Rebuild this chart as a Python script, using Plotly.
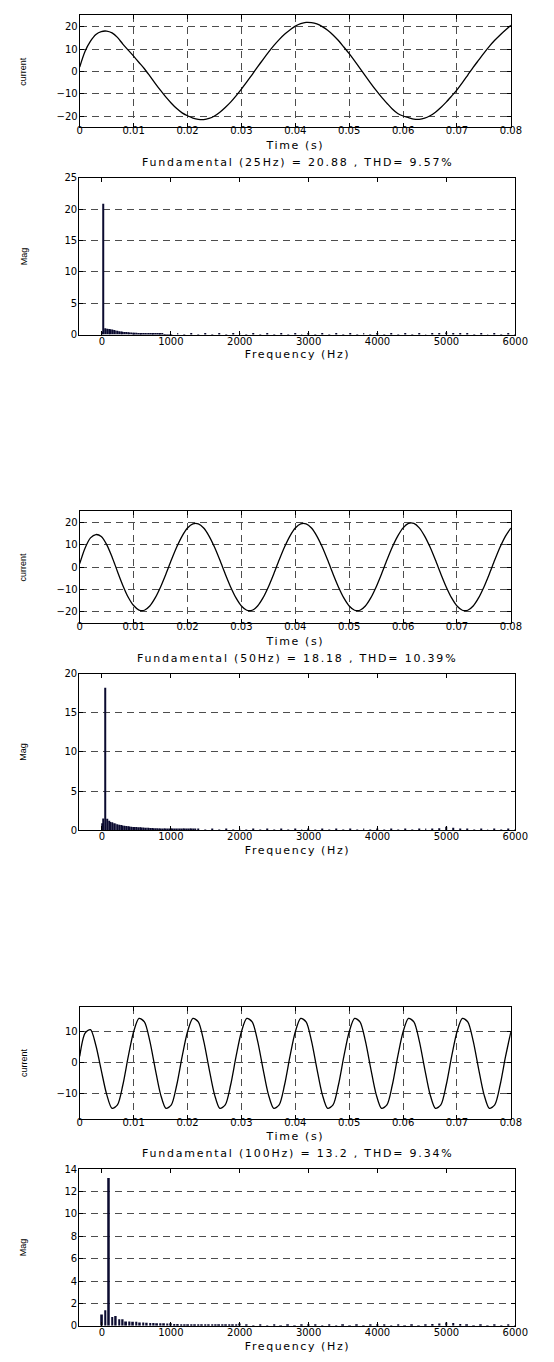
import plotly.graph_objects as go

W, H = 554, 1362
FONT = "DejaVu Sans, Verdana, sans-serif"
FONT_Y = "Liberation Sans, Arial, sans-serif"

# ---------------- data ----------------
time_s = [round(0.001 * i, 3) for i in range(81)]

current_25hz = [2.0, 9.0, 13.5, 16.5, 17.8, 18.0, 17.2, 15.2, 12.2, 9.5,
                6.8, 4.0, 1.2, -2.0, -5.3, -8.5, -11.5, -14.2, -16.6, -18.5,
                -19.8, -20.8, -21.4, -21.5, -21.0, -19.9, -18.2, -16.1, -13.7, -10.9,
                -7.9, -4.7, -1.4, 2.0, 5.3, 8.5, 11.5, 14.2, 16.6, 18.5,
                20.2, 21.3, 21.9, 21.8, 21.2, 20.0, 18.4, 16.3, 13.8, 10.9,
                7.9, 4.7, 1.4, -2.0, -5.3, -8.5, -11.5, -14.2, -16.8, -18.8,
                -19.9, -20.6, -21.3, -21.4, -20.9, -19.8, -18.2, -16.1, -13.7, -11.0,
                -8.2, -5.0, -1.6, 1.8, 5.0, 8.2, 11.2, 13.9, 16.3, 18.5,
                20.6]

current_50hz = [1.5, 8.5, 13.0, 14.5, 13.6, 10.0, 4.5, -2.0, -8.2, -13.5,
                -17.2, -19.2, -19.3, -17.4, -13.8, -8.9, -3.1, 3.1, 8.9, 13.8,
                17.4, 19.3, 19.3, 17.4, 13.8, 8.9, 3.1, -3.1, -8.9, -13.8,
                -17.4, -19.3, -19.3, -17.4, -13.8, -8.9, -3.1, 3.1, 8.9, 13.8,
                17.4, 19.3, 19.3, 17.4, 13.8, 8.9, 3.1, -3.1, -8.9, -13.8,
                -17.4, -19.3, -19.3, -17.4, -13.8, -8.9, -3.1, 3.1, 8.9, 13.8,
                17.5, 19.5, 19.5, 17.5, 13.8, 8.9, 3.1, -3.1, -8.9, -13.8,
                -17.4, -19.3, -19.3, -17.4, -13.8, -8.9, -3.1, 3.1, 8.9, 13.8,
                17.4]

current_100hz = [2.0, 9.5, 10.6, 5.5, -2.5, -10.2, -14.7, -13.6, -7.2, 1.9,
                 9.9, 14.2, 13.1, 7.0, -1.9, -10.2, -14.7, -13.6, -7.2, 1.9,
                 9.9, 14.2, 13.1, 7.0, -1.9, -10.2, -14.7, -13.6, -7.2, 1.9,
                 9.9, 14.2, 13.1, 7.0, -1.9, -10.2, -14.7, -13.6, -7.2, 1.9,
                 9.9, 14.2, 13.1, 7.0, -1.9, -10.2, -14.7, -13.6, -7.2, 1.9,
                 9.9, 14.2, 13.1, 7.0, -1.9, -10.2, -14.7, -13.6, -7.2, 1.9,
                 9.9, 14.2, 13.1, 7.0, -1.9, -10.2, -14.7, -13.6, -7.2, 1.9,
                 9.9, 14.2, 13.1, 7.0, -1.9, -10.2, -14.7, -13.6, -7.2, 1.9,
                 9.9]

# spectrum 1 (25 Hz fundamental)
spec1_freq_low = list(range(0, 1001, 25))
spec1_mag_low = [0.45, 20.88, 1.0, 0.95, 0.9, 0.85, 0.8, 0.72, 0.66, 0.6,
                 0.55, 0.5, 0.46, 0.42, 0.4, 0.38, 0.35, 0.33, 0.31, 0.3,
                 0.28, 0.27, 0.26, 0.25, 0.24, 0.23, 0.22, 0.2, 0.19, 0.17,
                 0.15, 0.13, 0.12, 0.11, 0.1, 0.1, 0.09, 0.09, 0.08, 0.08,
                 0.08]
spec1_freq_high = list(range(1100, 6001, 100))
spec1_mag_high = [0.1, 0.06, 0.1, 0.06, 0.1, 0.06, 0.1, 0.06, 0.1, 0.12,
                  0.06, 0.1, 0.06, 0.1, 0.06, 0.1, 0.06, 0.1, 0.06, 0.12,
                  0.06, 0.1, 0.06, 0.1, 0.06, 0.1, 0.06, 0.1, 0.06, 0.12,
                  0.06, 0.1, 0.06, 0.1, 0.06, 0.1, 0.08, 0.12, 0.2, 0.32,
                  0.22, 0.12, 0.1, 0.06, 0.1, 0.06, 0.1, 0.06, 0.1, 0.06]

# spectrum 2 (50 Hz fundamental)
spec2_freq_low = list(range(0, 1351, 25))
spec2_mag_low = [0.9, 1.5, 18.18, 1.45, 1.2, 1.05, 1.0, 0.9, 0.85, 0.75,
                 0.7, 0.65, 0.6, 0.55, 0.52, 0.5, 0.48, 0.45, 0.42, 0.42,
                 0.4, 0.38, 0.36, 0.35, 0.33, 0.32, 0.3, 0.3, 0.28, 0.27,
                 0.26, 0.25, 0.24, 0.23, 0.22, 0.22, 0.21, 0.2, 0.2, 0.19,
                 0.19, 0.18, 0.18, 0.17, 0.17, 0.16, 0.16, 0.15, 0.15, 0.15,
                 0.14, 0.14, 0.14, 0.13, 0.12]
spec2_freq_high = list(range(1400, 6001, 100))
spec2_mag_high = [0.08, 0.05, 0.08, 0.05, 0.08, 0.05, 0.1, 0.05, 0.08, 0.05,
                  0.08, 0.05, 0.08, 0.05, 0.08, 0.05, 0.1, 0.05, 0.08, 0.05,
                  0.08, 0.05, 0.08, 0.05, 0.08, 0.05, 0.1, 0.05, 0.08, 0.05,
                  0.08, 0.05, 0.08, 0.1, 0.15, 0.25, 0.45, 0.3, 0.12, 0.08,
                  0.05, 0.08, 0.05, 0.08, 0.05, 0.08, 0.05]

# spectrum 3 (100 Hz fundamental)
spec3_freq_low = list(range(0, 2001, 50))
spec3_mag_low = [1.0, 1.38, 13.2, 0.78, 0.88, 0.58, 0.58, 0.38, 0.38, 0.35,
                 0.35, 0.3, 0.3, 0.27, 0.25, 0.25, 0.23, 0.22, 0.22, 0.2,
                 0.22, 0.15, 0.15, 0.14, 0.14, 0.13, 0.14, 0.13, 0.14, 0.13,
                 0.14, 0.13, 0.13, 0.13, 0.13, 0.12, 0.13, 0.12, 0.12, 0.12,
                 0.2]
spec3_freq_high = list(range(2100, 6001, 100))
spec3_mag_high = [0.07, 0.05, 0.07, 0.05, 0.07, 0.05, 0.07, 0.05, 0.07, 0.12,
                  0.07, 0.05, 0.07, 0.05, 0.07, 0.05, 0.07, 0.05, 0.07, 0.12,
                  0.07, 0.05, 0.07, 0.05, 0.07, 0.05, 0.12, 0.15, 0.2, 0.3,
                  0.25, 0.15, 0.07, 0.05, 0.07, 0.05, 0.07, 0.05, 0.07, 0.05]

titles = ["Fundamental (25Hz) = 20.88 , THD= 9.57%",
          "Fundamental (50Hz) = 18.18 , THD= 10.39%",
          "Fundamental (100Hz) = 13.2 , THD= 9.34%"]

time_ticks = [0, 0.01, 0.02, 0.03, 0.04, 0.05, 0.06, 0.07, 0.08]
time_ticklabels = ["0", "0.01", "0.02", "0.03", "0.04", "0.05", "0.06", "0.07", "0.08"]
freq_ticks = [0, 1000, 2000, 3000, 4000, 5000, 6000]
freq_ticklabels = ["0", "1000", "2000", "3000", "4000", "5000", "6000"]

time_series = [current_25hz, current_50hz, current_100hz]
time_yranges = [[-25, 25], [-25, 25], [-18, 18]]
time_yticks = [[-20, -10, 0, 10, 20], [-20, -10, 0, 10, 20], [-10, 0, 10]]
spectra = [(spec1_freq_low + spec1_freq_high, spec1_mag_low + spec1_mag_high, 14),
           (spec2_freq_low + spec2_freq_high, spec2_mag_low + spec2_mag_high, 14),
           (spec3_freq_low + spec3_freq_high, spec3_mag_low + spec3_mag_high, 26)]
spec_yranges = [[0, 25], [0, 20], [0, 14]]
spec_dtick = [5, 5, 2]

# ---------------- layout geometry (pixels) ----------------
TX0, TX1 = 79, 523
SX0, SX1 = 78.5, 527.5
blocks = [0, 500, 1000]


def px(x):
    return x / W


def py(y):
    return 1 - y / H


fig = go.Figure()
layout = dict(
    width=W, height=H, margin=dict(l=0, r=0, t=0, b=0),
    paper_bgcolor="white", plot_bgcolor="white", showlegend=False,
    font=dict(family=FONT, size=10, color="black"),
    barmode="overlay", annotations=[],
)

axis_common = dict(
    showline=True, linecolor="black", linewidth=1, mirror="ticks",
    ticks="inside", ticklen=4, tickcolor="black", zeroline=False,
    tickfont=dict(family=FONT, size=10, color="black"),
    gridcolor="#4d4d4d", gridwidth=1, griddash="7px,5px",
)

for i, b in enumerate(blocks):
    ta = 2 * i + 1
    sa = 2 * i + 2
    # time-domain panel
    fig.add_trace(go.Scatter(
        x=time_s, y=time_series[i], mode="lines",
        line=dict(color="black", width=1.3, shape="spline", smoothing=0.8),
        xaxis=f"x{ta}", yaxis=f"y{ta}", hoverinfo="skip"))
    layout[f"xaxis{ta}"] = dict(
        axis_common, domain=[px(TX0), px(TX1)], anchor=f"y{ta}",
        range=[0, 0.08], tickvals=time_ticks, ticktext=time_ticklabels,
        showgrid=True, ticklabelstandoff=-6)
    layout[f"yaxis{ta}"] = dict(
        axis_common, domain=[py(b + 122.5), py(b + 9.5)], anchor=f"x{ta}",
        range=time_yranges[i], tickvals=time_yticks[i], showgrid=True,
        ticklabelstandoff=-1)
    # spectrum panel
    f, m, w = spectra[i]
    fig.add_trace(go.Bar(
        x=f, y=m, width=w, marker=dict(color="#0b0b30", line=dict(width=0)),
        xaxis=f"x{sa}", yaxis=f"y{sa}", hoverinfo="skip"))
    layout[f"xaxis{sa}"] = dict(
        axis_common, domain=[px(SX0), px(SX1)], anchor=f"y{sa}",
        range=[-330, 6000], tickvals=freq_ticks, ticktext=freq_ticklabels,
        showgrid=False, ticklabelstandoff=-3)
    layout[f"yaxis{sa}"] = dict(
        axis_common, domain=[py(b + 331.5), py(b + 173.5)], anchor=f"x{sa}",
        range=spec_yranges[i], dtick=spec_dtick[i], showgrid=True,
        ticklabelstandoff=-1)

    ann = layout["annotations"]
    ann.append(dict(text="current", x=px(21), y=py(b + 66), xref="paper", yref="paper",
                    showarrow=False, textangle=-90, font=dict(family=FONT_Y, size=9),
                    xanchor="center", yanchor="middle"))
    ann.append(dict(text="Time (s)", x=px((TX0 + TX1) / 2), y=py(b + 141),
                    xref="paper", yref="paper", showarrow=False, font=dict(size=11),
                    xanchor="center", yanchor="middle"))
    ann.append(dict(text=titles[i], x=px((SX0 + SX1) / 2), y=py(b + 158),
                    xref="paper", yref="paper", showarrow=False, font=dict(size=11),
                    xanchor="center", yanchor="middle"))
    ann.append(dict(text="Mag", x=px(21), y=py(b + 252), xref="paper", yref="paper",
                    showarrow=False, textangle=-90, font=dict(family=FONT_Y, size=9),
                    xanchor="center", yanchor="middle"))
    ann.append(dict(text="Frequency (Hz)", x=px((SX0 + SX1) / 2), y=py(b + 352),
                    xref="paper", yref="paper", showarrow=False, font=dict(size=11),
                    xanchor="center", yanchor="middle"))

fig.update_layout(**layout)

post_js = """
document.body.style.margin = '0';
document.body.style.overflow = 'hidden';
document.querySelectorAll('.annotation-text').forEach(function (t) {
  var s = t.textContent;
  if (s.indexOf('Fundamental') === 0) { t.style.letterSpacing = '1.8px'; }
  else if (s.indexOf('Time') === 0 || s.indexOf('Frequency') === 0) { t.style.letterSpacing = '1.6px'; }
});
"""
fig.write_html("out.html", post_script=post_js, config={"displayModeBar": False})
